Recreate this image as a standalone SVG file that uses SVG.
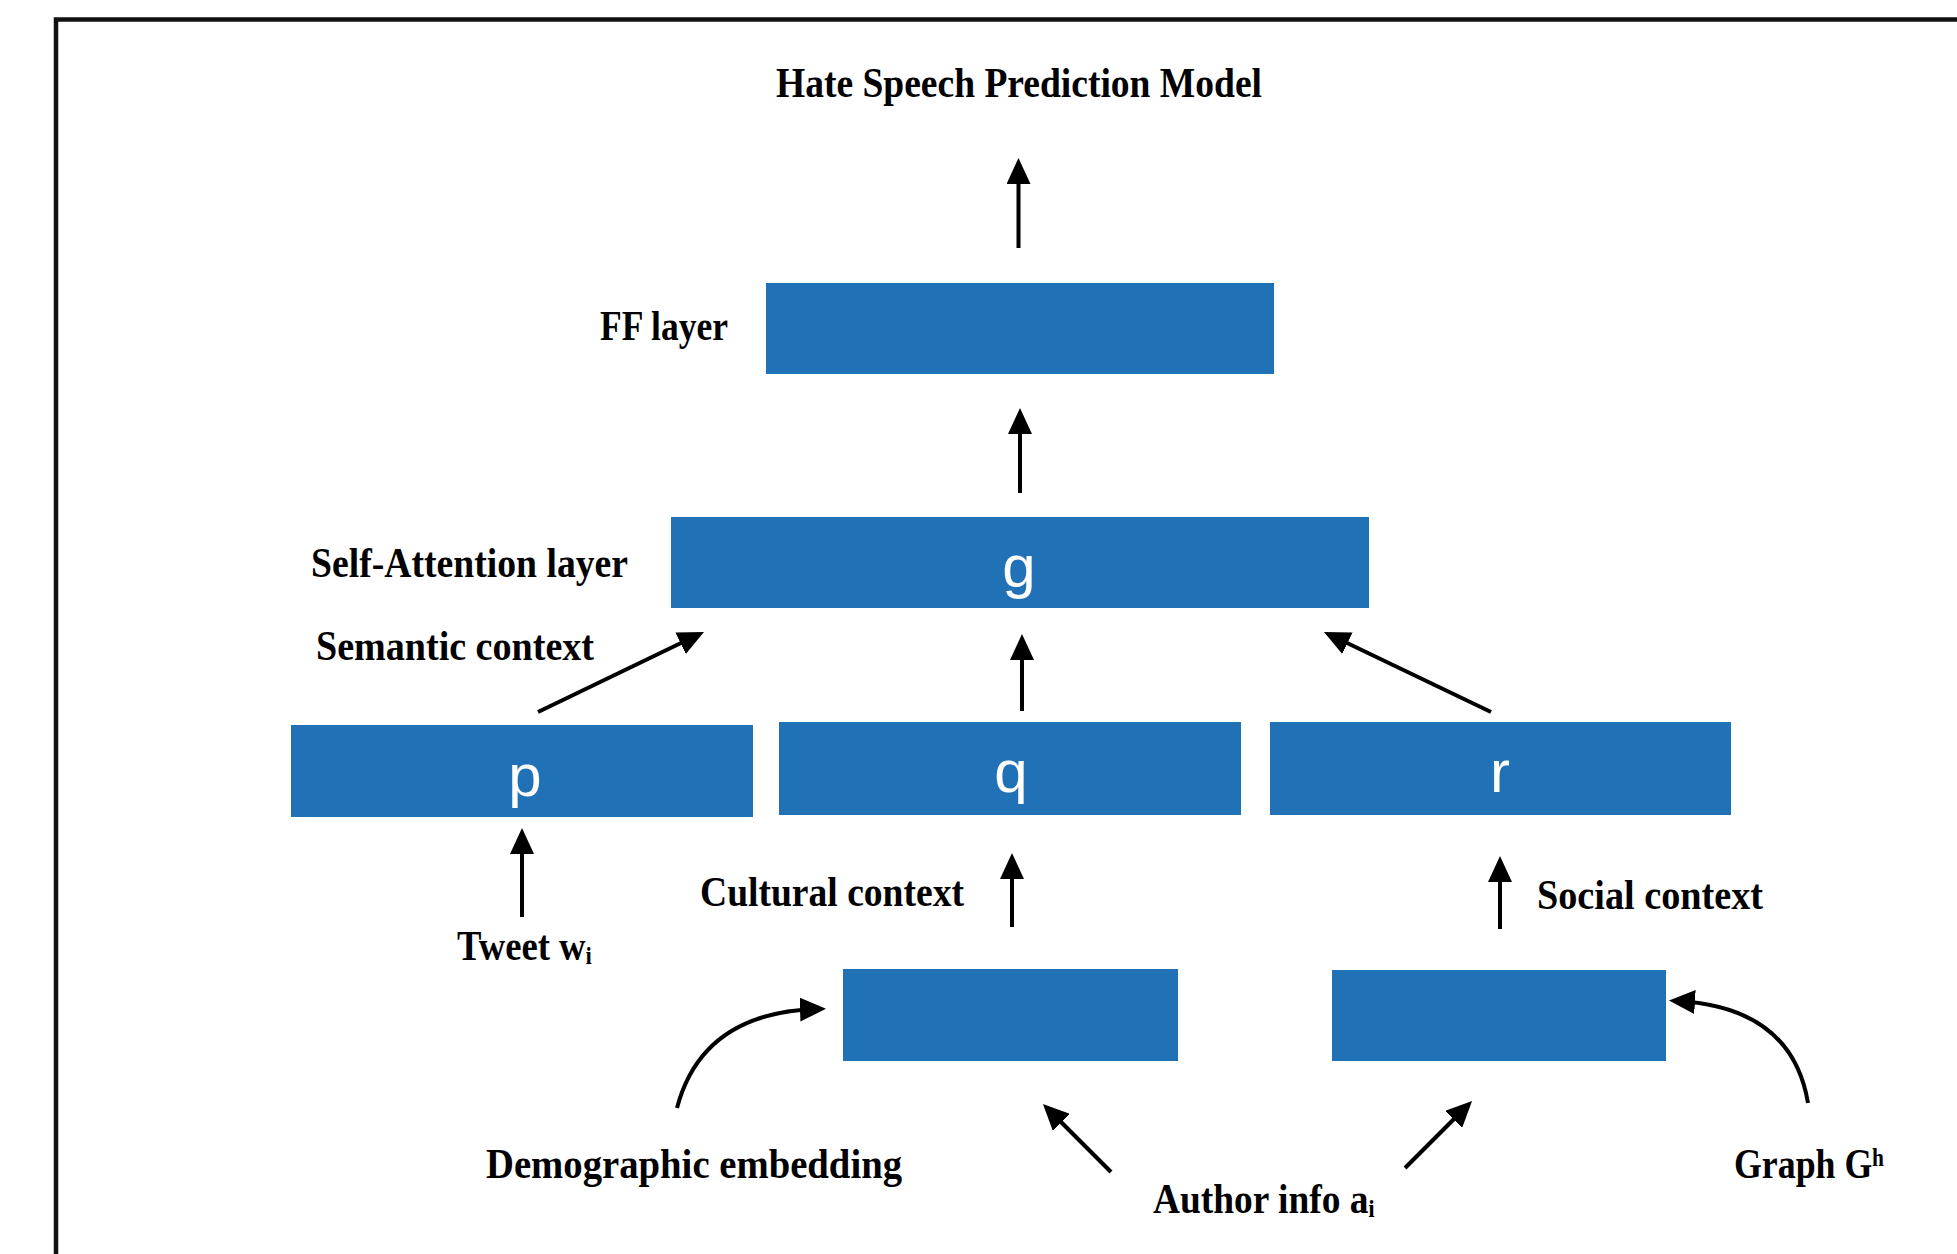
<svg xmlns="http://www.w3.org/2000/svg" width="1957" height="1254" viewBox="0 0 1957 1254">
<style>
.lbl{font-family:"Liberation Serif","DejaVu Serif","Times New Roman",serif;font-weight:bold;font-size:42px;fill:#000}
.box{fill:#2171b7}
.var{font-family:"Liberation Sans",Arial,sans-serif;font-size:60px;fill:#fff;text-anchor:middle}
.conn{stroke:#000;stroke-width:4;fill:none;marker-end:url(#ah)}
</style>
<defs>
<marker id="ah" markerUnits="userSpaceOnUse" markerWidth="26" markerHeight="24" refX="16" refY="12" orient="auto">
<path d="M0,0 L26,12 L0,24 z" fill="#000"/>
</marker>
</defs>
<rect x="0" y="0" width="1957" height="1254" fill="#fff"/>
<rect x="56" y="19.5" width="1960" height="1300" fill="none" stroke="#111" stroke-width="4.5"/>

<g id="title"><text class="lbl" x="776" y="97" textLength="486" lengthAdjust="spacingAndGlyphs">Hate Speech Prediction Model</text></g>

<g id="ff">
<rect class="box" x="766" y="283" width="508" height="91"/>
<text class="lbl" x="600" y="340" textLength="128" lengthAdjust="spacingAndGlyphs">FF layer</text>
</g>

<g id="g">
<rect class="box" x="671" y="517" width="698" height="91"/>
<text class="var" x="1019" y="587">g</text>
<text class="lbl" x="311" y="577" textLength="317" lengthAdjust="spacingAndGlyphs">Self-Attention layer</text>
</g>

<g id="semantic"><text class="lbl" x="316" y="660" textLength="278" lengthAdjust="spacingAndGlyphs">Semantic context</text></g>

<g id="p">
<rect class="box" x="291" y="725" width="462" height="92"/>
<text class="var" x="525" y="796">p</text>
</g>
<g id="q">
<rect class="box" x="779" y="722" width="462" height="93"/>
<text class="var" x="1011" y="792">q</text>
</g>
<g id="r">
<rect class="box" x="1270" y="722" width="461" height="93"/>
<text class="var" x="1500" y="792">r</text>
</g>

<g id="tweet"><text class="lbl" x="457" y="960" textLength="135" lengthAdjust="spacingAndGlyphs">Tweet wᵢ</text></g>
<g id="cultural"><text class="lbl" x="700" y="906" textLength="264" lengthAdjust="spacingAndGlyphs">Cultural context</text></g>
<g id="social"><text class="lbl" x="1537" y="909" textLength="226" lengthAdjust="spacingAndGlyphs">Social context</text></g>

<g id="demographic">
<rect class="box" x="843" y="969" width="335" height="92"/>
<text class="lbl" x="486" y="1178" textLength="416" lengthAdjust="spacingAndGlyphs">Demographic embedding</text>
</g>
<g id="socialbox">
<rect class="box" x="1332" y="970" width="334" height="91"/>
</g>
<g id="author"><text class="lbl" x="1153" y="1213" textLength="222" lengthAdjust="spacingAndGlyphs">Author info aᵢ</text></g>
<g id="graph"><text class="lbl" x="1734" y="1178" textLength="150" lengthAdjust="spacingAndGlyphs">Graph Gʰ</text></g>

<g id="connectors">
<line class="conn" x1="1018.5" y1="248" x2="1018.5" y2="168"/>
<line class="conn" x1="1020" y1="493" x2="1020" y2="418"/>
<line class="conn" x1="538" y1="712" x2="695" y2="636.3"/>
<line class="conn" x1="1022" y1="711" x2="1022" y2="644"/>
<line class="conn" x1="1491" y1="712" x2="1333" y2="636.3"/>
<line class="conn" x1="522" y1="917" x2="522" y2="838"/>
<line class="conn" x1="1012" y1="927" x2="1012" y2="863"/>
<line class="conn" x1="1500" y1="929" x2="1500" y2="866"/>
<path class="conn" d="M677,1108 Q702,1013 816,1009"/>
<path class="conn" d="M1808,1103 Q1792,1008 1679,1001"/>
<line class="conn" x1="1111" y1="1172" x2="1050" y2="1111"/>
<line class="conn" x1="1405" y1="1168" x2="1465" y2="1108"/>
</g>
</svg>
